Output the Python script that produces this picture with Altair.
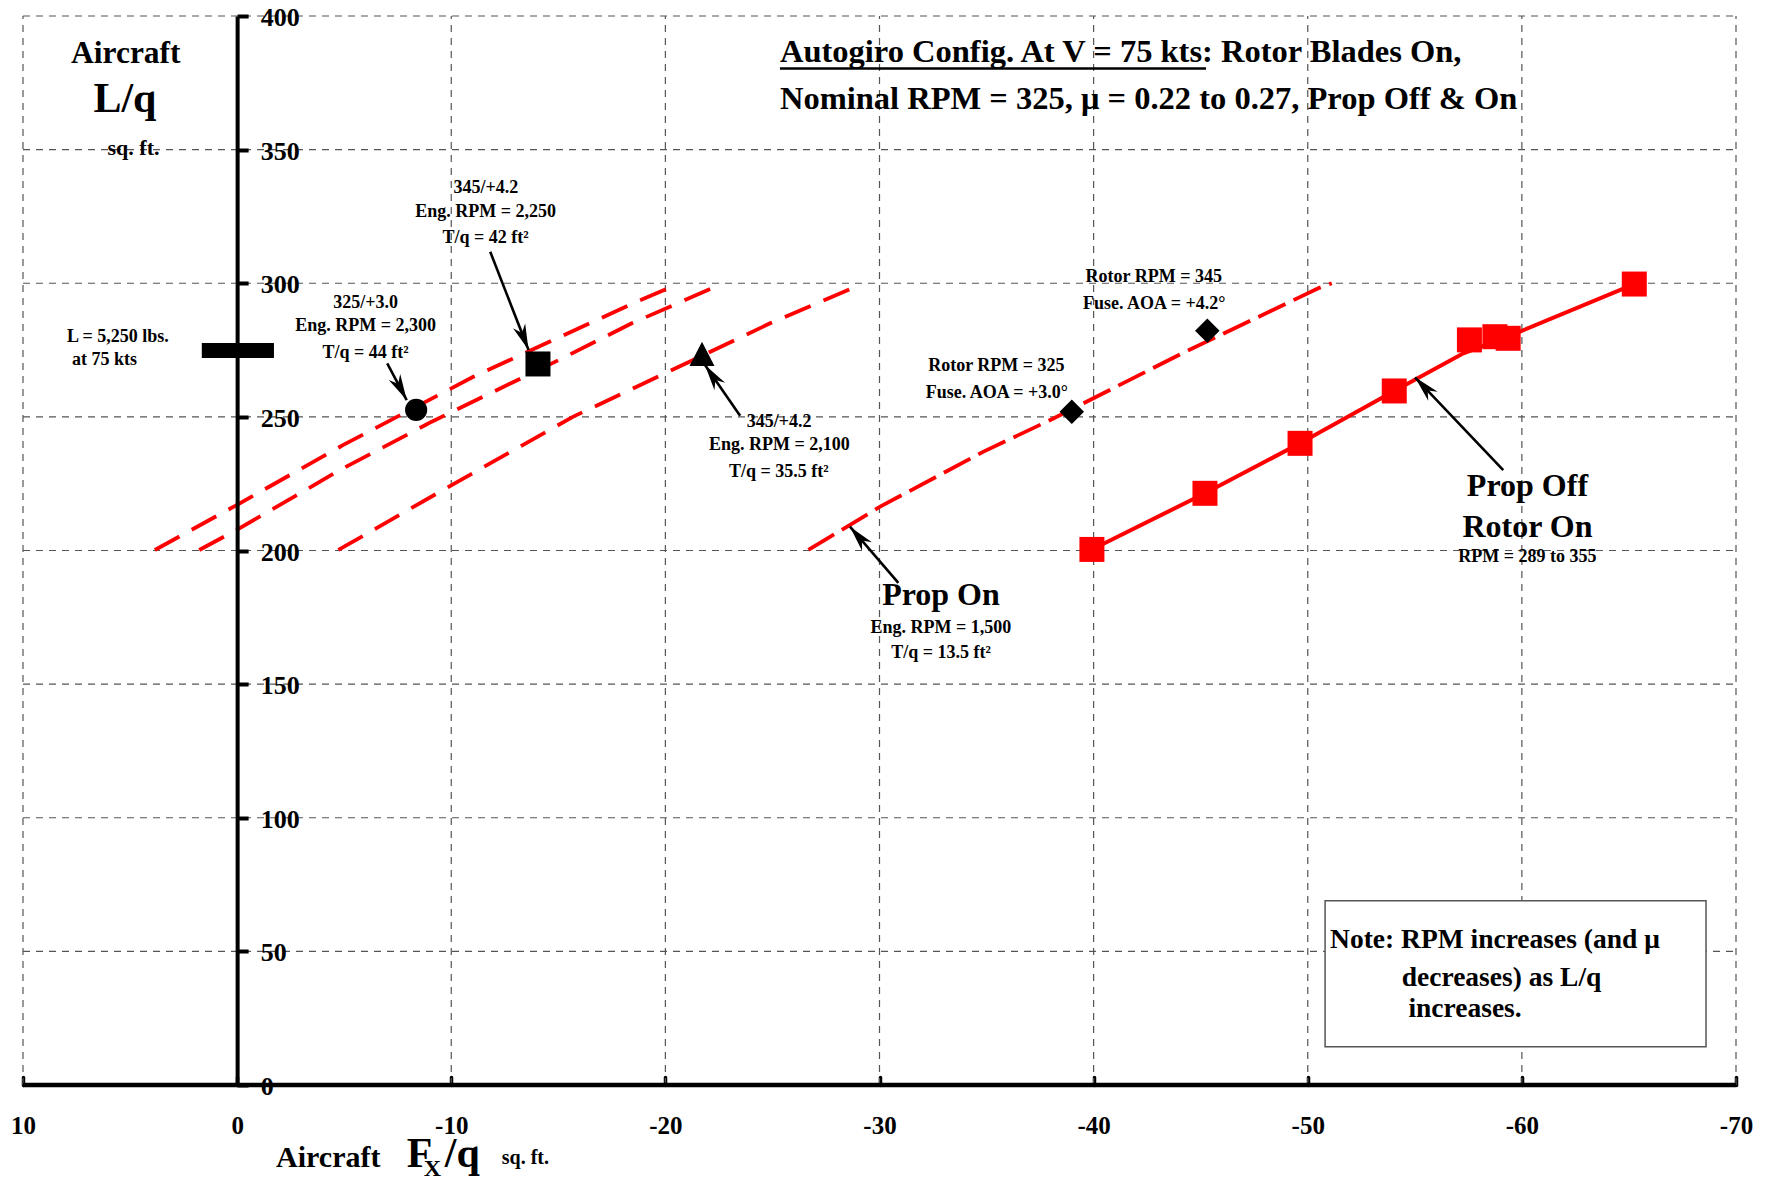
import math
import altair as alt
import pandas as pd

W, H = 1713, 1069
FONT = "Liberation Serif"
RED = "#ff0000"

# ---------------- data ----------------
x_ticks = [10, 0, -10, -20, -30, -40, -50, -60, -70]
y_ticks = [0, 50, 100, 150, 200, 250, 300, 350, 400]
grid_x = [10, -10, -20, -30, -40, -50, -60, -70]
grid_y = [50, 100, 150, 200, 250, 300, 350, 400]

# three dashed "prop on" curves on the left (325/+3.0, 345/+4.2 @2250, 345/+4.2 @2100)
line_a_x = [3.84, 0.0, -4.96, -11.03, -18.5, -20.6]
line_a_y = [200.2, 217.1, 239.5, 265.0, 292.5, 299.7]
line_b_x = [1.77, 0.0, -4.80, -9.09, -15.08, -18.43, -22.63]
line_b_y = [200.2, 207.8, 230.1, 248.2, 271.5, 285.0, 299.7]
line_c_x = [-4.73, -10.02, -15.70, -18.66, -21.30, -24.89, -29.17]
line_c_y = [200.2, 224.5, 250.1, 261.3, 271.3, 285.0, 299.7]

# Prop On (Eng. RPM = 1,500) dashed curve
prop_on_x = [-26.68, -30.03, -34.86, -38.05, -44.19, -50.49, -51.12]
prop_on_y = [200.2, 216.4, 237.0, 249.1, 274.0, 298.1, 300.0]

# Prop Off / Rotor On squares (measured points)
prop_off_x = [-39.92, -45.2, -49.64, -54.04, -57.55, -58.74, -59.36, -65.25]
prop_off_y = [200.4, 221.4, 240.1, 259.7, 278.8, 280.0, 279.4, 299.7]
# Prop Off / Rotor On curve vertices (the drawn line)
prop_off_line_x = [-39.92, -45.2, -49.64, -54.04, -57.27, -59.91, -65.25]
prop_off_line_y = [200.4, 221.4, 240.1, 259.7, 273.8, 281.9, 299.7]

# black markers
circle_pt = (-8.36, 252.6)
square_pt = (-14.05, 269.8)
triangle_pt = (-21.71, 273.6)
diamond_x = [-38.98, -45.31]
diamond_y = [251.9, 282.2]

# L = 5,250 lbs marker bar
bar_x = (1.65, -1.72)
bar_y = 274.8

# arrows: start (x, y) -> tip (x, y)
arrow_xs = [-7.01, -11.82, -23.49, -30.88, -59.13]
arrow_ys = [270.0, 311.8, 250.4, 187.9, 230.1]
arrow_xt = [-7.92, -13.61, -21.85, -28.62, -55.01]
arrow_yt = [256.3, 275.0, 269.4, 208.9, 264.8]

# note box
note_box = dict(x=-50.81, x2=-68.6, y=68.96, y2=14.33)

# texts
small_texts = [
    ("345/+4.2", -11.62, 335.6), ("Eng. RPM = 2,250", -11.6, 326.6), ("T/q = 42 ft²", -11.6, 316.8),
    ("325/+3.0", -6.0, 292.5), ("Eng. RPM = 2,300", -6.0, 283.9), ("T/q = 44 ft²", -6.0, 274.0),
    ("345/+4.2", -25.31, 247.9), ("Eng. RPM = 2,100", -25.32, 239.3), ("T/q = 35.5 ft²", -25.3, 229.5),
    ("Rotor RPM = 345", -42.81, 302.3), ("Fuse. AOA = +4.2°", -42.83, 292.3),
    ("Rotor RPM = 325", -35.46, 268.9), ("Fuse. AOA = +3.0°", -35.48, 258.9),
    ("Eng. RPM = 1,500", -32.87, 171.0), ("T/q = 13.5 ft²", -32.87, 161.6),
    ("RPM = 289 to 355", -60.26, 197.4),
]
big_texts = [("Prop On", -32.87, 183.3), ("Prop Off", -60.26, 224.2), ("Rotor On", -60.26, 208.9)]
ylabel_texts = [("Aircraft", 5.2, 385.9, 31.5), ("L/q", 5.24, 368.9, 42), ("sq. ft.", 4.84, 350.6, 22)]
left_texts = [("L = 5,250 lbs.", 7.95, 279.9, 18), ("at 75 kts", 7.71, 271.3, 18)]
title_texts = [
    ("Autogiro Config. At V = 75 kts: Rotor Blades On,", -25.35, 386.5, 32.5),
    ("Nominal RPM = 325, μ = 0.22 to 0.27, Prop Off & On", -25.35, 369.1, 32.5),
]
title_underline = dict(x=-25.35, x2=-45.25, y=380.4)
note_texts = [
    ("Note: RPM increases (and μ", -51.04, 54.2, 27.5),
    ("decreases) as L/q", -54.39, 40.1, 27.5),
    ("increases.", -54.70, 28.6, 27.5),
]
xtitle_texts = [
    ("Aircraft", -1.82, -27.5, 30), ("F", -7.92, -26.0, 42), ("X", -8.72, -31.3, 24),
    ("/q", -9.70, -26.0, 42), ("sq. ft.", -12.36, -27.5, 20),
]

# ---------------- scales / axes ----------------
xscale = alt.Scale(domain=[-70, 10], reverse=True, nice=False, zero=False)
yscale = alt.Scale(domain=[0, 400], nice=False, zero=False)

xaxis = alt.Axis(orient="bottom", offset=-8, values=x_ticks, tickSize=8, tickWidth=3.5,
                 tickColor="black", tickCap="round", domain=False, grid=False,
                 labelFont=FONT, labelFontSize=25, labelFontWeight="bold", labelColor="black",
                 labelPadding=40, labelBaseline="middle", labelFlush=False, labelOverlap=False,
                 labelExpr="'' + datum.value", title=None)
yaxis = alt.Axis(orient="right", offset=-(W - W * 10 / 80), values=y_ticks, tickSize=11,
                 tickWidth=4, tickColor="black", domainWidth=4, domainColor="black", grid=False,
                 labelFont=FONT, labelFontSize=26, labelFontWeight="bold", labelColor="black",
                 labelPadding=12, labelAlign="left", labelBaseline="middle", labelFlush=False,
                 labelOverlap=False, labelOffset=1.5, title=None, zindex=1)


def X(f="x"):
    return alt.X(f"{f}:Q", scale=xscale, axis=xaxis)


def Y(f="y"):
    return alt.Y(f"{f}:Q", scale=yscale, axis=yaxis)


layers = []

# grid
gh = pd.DataFrame({"y": grid_y, "x": [10] * len(grid_y), "x2": [-70] * len(grid_y)})
layers.append(alt.Chart(gh).mark_rule(color="#555555", strokeWidth=1.2, strokeDash=[7, 6])
              .encode(x=X(), x2="x2:Q", y=Y()))
gv = pd.DataFrame({"x": grid_x, "y": [0] * len(grid_x), "y2": [400] * len(grid_x)})
layers.append(alt.Chart(gv).mark_rule(color="#555555", strokeWidth=1.2, strokeDash=[7, 6])
              .encode(x=X(), y=Y(), y2="y2:Q"))

# note box
nb = pd.DataFrame([note_box])
layers.append(alt.Chart(nb).mark_rect(fill="white", stroke="#555555", strokeWidth=1.5)
              .encode(x=X(), x2="x2:Q", y=Y(), y2="y2:Q"))

# dashed left curves
rows = []
for name, xs, ys in [("a", line_a_x, line_a_y), ("b", line_b_x, line_b_y), ("c", line_c_x, line_c_y)]:
    for i, (xv, yv) in enumerate(zip(xs, ys)):
        rows.append({"s": name, "o": i, "x": xv, "y": yv})
ld = pd.DataFrame(rows)
layers.append(alt.Chart(ld).mark_line(color=RED, strokeWidth=3.8, strokeDash=[28, 14])
              .encode(x=X(), y=Y(), detail="s:N", order="o:Q"))

# prop on curve
po = pd.DataFrame({"x": prop_on_x, "y": prop_on_y, "o": list(range(len(prop_on_x)))})
layers.append(alt.Chart(po).mark_line(color=RED, strokeWidth=3.8, strokeDash=[30, 9])
              .encode(x=X(), y=Y(), order="o:Q"))

# prop off line + squares
pfl = pd.DataFrame({"x": prop_off_line_x, "y": prop_off_line_y,
                    "o": list(range(len(prop_off_line_x)))})
layers.append(alt.Chart(pfl).mark_line(color=RED, strokeWidth=4)
              .encode(x=X(), y=Y(), order="o:Q"))
pf = pd.DataFrame({"x": prop_off_x, "y": prop_off_y})
layers.append(alt.Chart(pf).mark_point(shape="square", filled=True, color=RED, size=625, opacity=1)
              .encode(x=X(), y=Y()))

# black markers
layers.append(alt.Chart(pd.DataFrame([{"x": circle_pt[0], "y": circle_pt[1]}]))
              .mark_point(shape="circle", filled=True, color="black", size=490, opacity=1)
              .encode(x=X(), y=Y()))
layers.append(alt.Chart(pd.DataFrame([{"x": square_pt[0], "y": square_pt[1]}]))
              .mark_point(shape="square", filled=True, color="black", size=625, opacity=1)
              .encode(x=X(), y=Y()))
layers.append(alt.Chart(pd.DataFrame([{"x": triangle_pt[0], "y": triangle_pt[1]}]))
              .mark_point(shape="M0,-0.97L1,0.97L-1,0.97Z", filled=True, color="black", size=625, opacity=1)
              .encode(x=X(), y=Y()))
layers.append(alt.Chart(pd.DataFrame({"x": diamond_x, "y": diamond_y}))
              .mark_point(shape="diamond", filled=True, color="black", size=600, opacity=1)
              .encode(x=X(), y=Y()))

# L bar
layers.append(alt.Chart(pd.DataFrame([{"x": bar_x[0], "x2": bar_x[1], "y": bar_y}]))
              .mark_rule(color="black", strokeWidth=15)
              .encode(x=X(), x2="x2:Q", y=Y()))

# arrows
px_x = W / 80.0
px_y = H / 400.0
angles = []
for xs_, ys_, xt_, yt_ in zip(arrow_xs, arrow_ys, arrow_xt, arrow_yt):
    dx = -(xt_ - xs_) * px_x
    dy = -(yt_ - ys_) * px_y
    angles.append(math.degrees(math.atan2(dx, -dy)) % 360)
ar = pd.DataFrame({"x": arrow_xs, "y": arrow_ys, "x2": arrow_xt, "y2": arrow_yt, "angle": angles})
layers.append(alt.Chart(ar).mark_rule(color="black", strokeWidth=2.6)
              .encode(x=X(), y=Y(), x2="x2:Q", y2="y2:Q"))
layers.append(alt.Chart(ar).mark_point(shape="M0,0L-0.55,2.2L0,1.55L0.55,2.2Z", filled=True,
                                       color="black", size=560, opacity=1)
              .encode(x=X("x2"), y=Y("y2"), angle=alt.Angle("angle:Q", scale=None)))


def text_layer(items, align, weight="bold", size=None):
    if size is None:
        df = pd.DataFrame(items, columns=["t", "x", "y", "fs"])
    else:
        df = pd.DataFrame(items, columns=["t", "x", "y"])
        df["fs"] = size
    return (alt.Chart(df).mark_text(font=FONT, fontWeight=weight, align=align, baseline="middle",
                                     color="black")
            .encode(x=X(), y=Y(), text="t:N", size=alt.Size("fs:Q", scale=None, legend=None)))


layers.append(text_layer(small_texts, "center", size=18))
layers.append(text_layer(big_texts, "center", size=32))
layers.append(text_layer(ylabel_texts, "center"))
layers.append(text_layer(left_texts, "left"))
layers.append(text_layer(title_texts, "left"))
layers.append(text_layer(note_texts, "left"))
layers.append(text_layer(xtitle_texts, "left"))

# title underline
layers.append(alt.Chart(pd.DataFrame([title_underline]))
              .mark_rule(color="black", strokeWidth=2.5)
              .encode(x=X(), x2="x2:Q", y=Y()))

# thick x axis line at y = 0
layers.append(alt.Chart(pd.DataFrame([{"x": 10, "x2": -70, "y": 0}]))
              .mark_rule(color="black", strokeWidth=4.5)
              .encode(x=X(), x2="x2:Q", y=Y()))

chart = (alt.layer(*layers)
         .properties(width=W, height=H,
                     autosize=alt.AutoSizeParams(type="none"),
                     padding={"left": 15, "top": 8, "right": 21, "bottom": 92},
                     background="white")
         .configure_view(stroke=None))

chart.save("out.html", embed_options={"renderer": "svg", "actions": False})
